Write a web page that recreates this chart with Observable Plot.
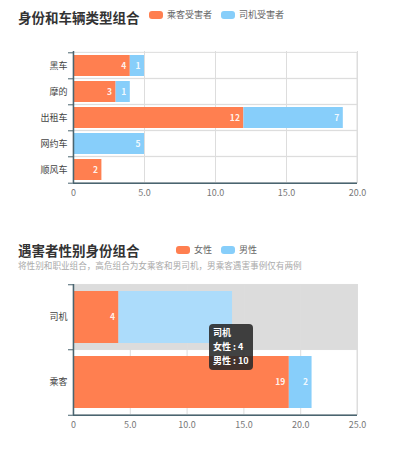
<!DOCTYPE html>
<html>
<head>
<meta charset="utf-8">
<script src="https://cdn.jsdelivr.net/npm/d3@7"></script>
<script src="https://cdn.jsdelivr.net/npm/@observablehq/plot@0.6"></script>
<style>
  html, body { margin: 0; padding: 0; background: #fff; }
  body { font-family: "Noto Sans CJK SC", "Noto Sans", sans-serif; }
  #page { position: relative; width: 397px; height: 459px; overflow: hidden; }
  .title { position: absolute; left: 18px; font-size: 13.5px; font-weight: bold; color: #333; line-height: 16px; white-space: nowrap; }
  .legend { position: absolute; font-size: 9px; color: #666; line-height: 12px; white-space: nowrap; display: flex; align-items: center; }
  .legend .sw { display: inline-block; width: 14px; height: 8px; border-radius: 3px; margin-right: 4px; }
  .legend .item { display: flex; align-items: center; margin-right: 9px; }
  .subtitle { position: absolute; left: 18px; font-size: 8.6px; color: #aaa; white-space: nowrap; line-height: 11px; }
  .chart { position: absolute; left: 0; }
  .tip { position: absolute; background: rgba(40,40,40,0.88); color: #fff; border-radius: 4px; font-size: 9px; line-height: 14px; padding: 2px 4px; font-weight: bold; white-space: nowrap; }
</style>
</head>
<body>
<div id="page"></div>
<script>
// ---------- data ----------
const cats1 = ["黑车", "摩的", "出租车", "网约车", "顺风车"];
const series1 = ["乘客受害者", "司机受害者"];
const passengerVictims = [4, 3, 12, 0, 2];
const driverVictims = [1, 1, 7, 5, 0];
const ticks1 = [0, 5, 10, 15, 20];
const title1 = "身份和车辆类型组合";

const cats2 = ["司机", "乘客"];
const series2 = ["女性", "男性"];
const femaleVictims = [4, 19];
const maleVictims = [10, 2];
const ticks2 = [0, 5, 10, 15, 20, 25];
const title2 = "遇害者性别身份组合";
const subtitle2 = "将性别和职业组合，高危组合为女乘客和男司机，男乘客遇害事例仅有两例";
const tooltipCat = "司机";

const colors = ["#ff7f50", "#87cefa"];
const hoverBlue = "#acdcfb";
const axisColor = "#4a6570";
const gridColor = "#dddddd";

const page = document.getElementById("page");

function el(cls, html, style) {
  const d = document.createElement("div");
  d.className = cls;
  d.innerHTML = html;
  Object.assign(d.style, style);
  page.appendChild(d);
  return d;
}

function legendHtml(series) {
  return series.map((s, i) => `<span class="item"><span class="sw" style="background:${colors[i]}"></span>${s}</span>`).join("");
}

function drawChart({cats, series, values, ticks, top, height, marginTop, marginBottom, highlight}) {
  const width = 397, marginLeft = 73, marginRight = 40;
  const xmax = ticks[ticks.length - 1];
  const plotH = height - marginTop - marginBottom;
  const plotW = width - marginLeft - marginRight;
  const step = plotH / cats.length;
  const padInner = 0.2;
  const gap = step * padInner / 2;
  const tickLen = 5 * xmax / plotW;

  const rows = [];
  series.forEach((s, si) => {
    cats.forEach((c, ci) => {
      const v = values[si][ci];
      const hovered = !!(highlight && c === highlight && si === 1);
      rows.push({cat: c, series: s, value: v, fill: hovered ? hoverBlue : colors[si], hovered});
    });
  });

  const marks = [];
  if (highlight) {
    marks.push(Plot.barX([highlight], {y: d => d, x1: 0, x2: xmax, fill: "#dcdcdc", insetTop: -gap, insetBottom: -gap}));
  }
  marks.push(
    Plot.barX(cats, {y: d => d, x1: 0, x2: xmax, fill: "none", stroke: gridColor, insetTop: -gap, insetBottom: -gap}),
    Plot.ruleX(ticks.filter(t => t > 0), {x: d => d, stroke: gridColor}),
    Plot.barX(rows, Plot.stackX({y: "cat", x: "value", fill: "fill"})),
    Plot.text(rows, Plot.stackX2({
      y: "cat", x: "value", text: d => String(d.value),
      filter: d => d.value > 0 && !d.hovered,
      textAnchor: "end", dx: -4, fill: "white", fillOpacity: 0.9, fontSize: 8.5, fontWeight: "bold"
    })),
    Plot.ruleX([0], {stroke: axisColor, strokeWidth: 1.5}),
    Plot.ruleY([cats[cats.length - 1]], {y: d => d, dy: step / 2, stroke: axisColor, strokeWidth: 1.5}),
    Plot.ruleY(cats, {y: d => d, dy: -step / 2, x1: -tickLen, x2: 0, stroke: axisColor}),
    Plot.ruleY([cats[cats.length - 1]], {y: d => d, dy: step / 2, x1: -tickLen, x2: 0, stroke: axisColor}),
    Plot.axisX(ticks, {tickSize: 0, tickPadding: 6, tickFormat: d => d === 0 ? "0" : d.toFixed(1), color: "#777", fontSize: 9, label: null}),
    Plot.axisY({tickSize: 0, tickPadding: 6, color: "#444", fontSize: 9, label: null})
  );

  const svg = Plot.plot({
    width, height, marginLeft, marginRight, marginTop, marginBottom,
    style: {fontFamily: '"Noto Sans CJK SC", sans-serif', background: "transparent", overflow: "visible"},
    x: {domain: [0, xmax], label: null},
    y: {domain: cats, paddingInner: padInner, paddingOuter: padInner / 2, label: null},
    color: {type: "identity"},
    marks
  });
  svg.classList.add("chart");
  svg.style.top = top + "px";
  page.appendChild(svg);
  return svg;
}

// ---------- chart 1 ----------
el("title", title1, {top: "9px"});
el("legend", legendHtml(series1), {left: "149px", top: "9px"});
drawChart({
  cats: cats1, series: series1, values: [passengerVictims, driverVictims], ticks: ticks1,
  top: 40, height: 170, marginTop: 11, marginBottom: 27
});

// ---------- chart 2 ----------
el("title", title2, {top: "242px"});
el("legend", legendHtml(series2), {left: "176px", top: "244px"});
el("subtitle", subtitle2, {top: "260px"});
drawChart({
  cats: cats2, series: series2, values: [femaleVictims, maleVictims], ticks: ticks2,
  top: 273, height: 165, marginTop: 11, marginBottom: 23, highlight: tooltipCat
});

// tooltip
const ti = cats2.indexOf(tooltipCat);
el("tip", `${tooltipCat}<br>${series2[0]} : ${femaleVictims[ti]}<br>${series2[1]} : ${maleVictims[ti]}`, {left: "209px", top: "324px"});
</script>
</body>
</html>
